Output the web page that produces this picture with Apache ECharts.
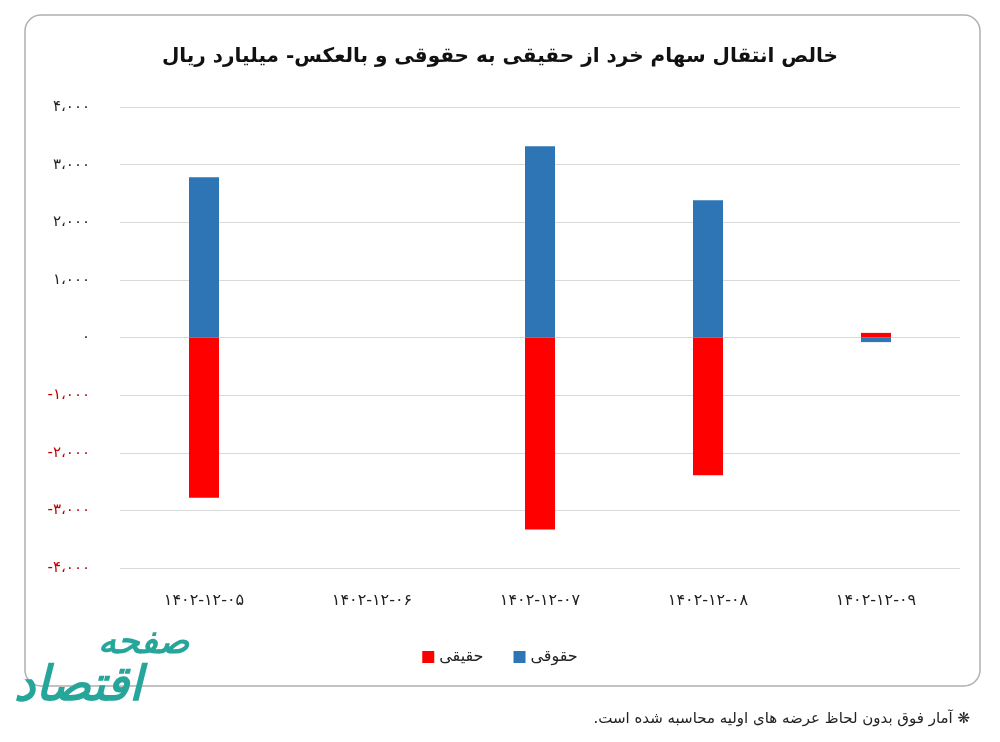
<!DOCTYPE html>
<html><head><meta charset="utf-8">
<script src="https://cdn.jsdelivr.net/npm/echarts@6/dist/echarts.min.js"></script>
<style>html,body{margin:0;padding:0;background:#fff}#c{width:1000px;height:742px}</style>
</head><body><div id="c"></div>
<script>
var categories = ['۱۴۰۲-۱۲-۰۵', '۱۴۰۲-۱۲-۰۶', '۱۴۰۲-۱۲-۰۷', '۱۴۰۲-۱۲-۰۸', '۱۴۰۲-۱۲-۰۹'];
var haghighi = [-2780, 0, -3330, -2390, 80];   // حقیقی (red)
var hoghoghi = [2780, 0, 3320, 2380, -80];     // حقوقی (blue)
var yTicks = [-4000, -3000, -2000, -1000, 0, 1000, 2000, 3000, 4000];
var titleText = 'خالص انتقال سهام خرد از حقیقی به حقوقی و بالعکس- میلیارد ریال';
var footText = '\u200F❋ آمار فوق بدون لحاظ عرضه های اولیه محاسبه شده است.\u200F';
var logoBig = 'اقتصاد';
var logoSmall = 'صفحه';

var fa = '۰۱۲۳۴۵۶۷۸۹';
function toFa(v) {
  var s = Math.abs(v).toString().replace(/\B(?=(\d{3})+(?!\d))/g, '،');
  s = s.replace(/\d/g, function (d) { return fa[+d]; });
  return (v < 0 ? '-' : '') + s;
}
var FONT = '"DejaVu Sans", "Noto Sans", sans-serif';
var chart = echarts.init(document.getElementById('c'));
chart.setOption({
  animation: false,
  backgroundColor: '#fff',
  textStyle: { fontFamily: FONT },
  title: {
    text: titleText, left: 'center', top: 42,
    textStyle: { fontFamily: FONT, fontSize: 20, fontWeight: 'bold', color: '#111' }
  },
  legend: {
    data: ['حقیقی', 'حقوقی'], left: 'center', top: 644, itemWidth: 12, itemHeight: 12,
    itemGap: 30, icon: 'rect',
    textStyle: { fontFamily: FONT, fontSize: 16, color: '#222' }
  },
  grid: { left: 120, right: 40, top: 107, bottom: 742 - 568 },
  xAxis: {
    type: 'category', data: categories,
    axisLine: { show: false, onZero: false }, axisTick: { show: false },
    axisLabel: { margin: 25, fontSize: 16, color: '#222', fontFamily: FONT }
  },
  yAxis: {
    type: 'value', min: yTicks[0], max: yTicks[yTicks.length - 1], interval: 1000,
    axisLine: { show: false }, axisTick: { show: false },
    splitLine: { lineStyle: { color: '#d9d9d9', width: 1 } },
    axisLabel: {
      margin: 30, fontSize: 15, fontFamily: FONT,
      formatter: function (v) { return v < 0 ? '{n|' + toFa(v) + '}' : '{p|' + toFa(v) + '}'; },
      rich: { p: { color: '#222', fontSize: 15, fontFamily: FONT }, n: { color: '#c00000', fontSize: 15, fontFamily: FONT } }
    }
  },
  series: [
    { name: 'حقیقی', type: 'bar', stack: 'a', data: haghighi, barWidth: 30, itemStyle: { color: '#ff0000' } },
    { name: 'حقوقی', type: 'bar', stack: 'a', data: hoghoghi, barWidth: 30, itemStyle: { color: '#2e75b6' } }
  ],
  graphic: [
    { type: 'rect', z: -1, silent: true, shape: { x: 25, y: 15, width: 955, height: 671, r: 16 },
      style: { fill: 'none', stroke: '#b0b0b0', lineWidth: 1.5 } },
    { type: 'text', z: 6, left: 14, top: 664,
      style: { text: logoBig, font: 'italic bold 48px ' + FONT, fill: '#26a69a' } },
    { type: 'text', z: 6, left: 98, top: 626,
      style: { text: logoSmall, font: 'italic bold 36px ' + FONT, fill: '#26a69a' } },
    { type: 'text', z: 6, right: 30, top: 712,
      style: { text: footText, font: '15px ' + FONT, fill: '#222' } }
  ]
});
</script></body></html>
